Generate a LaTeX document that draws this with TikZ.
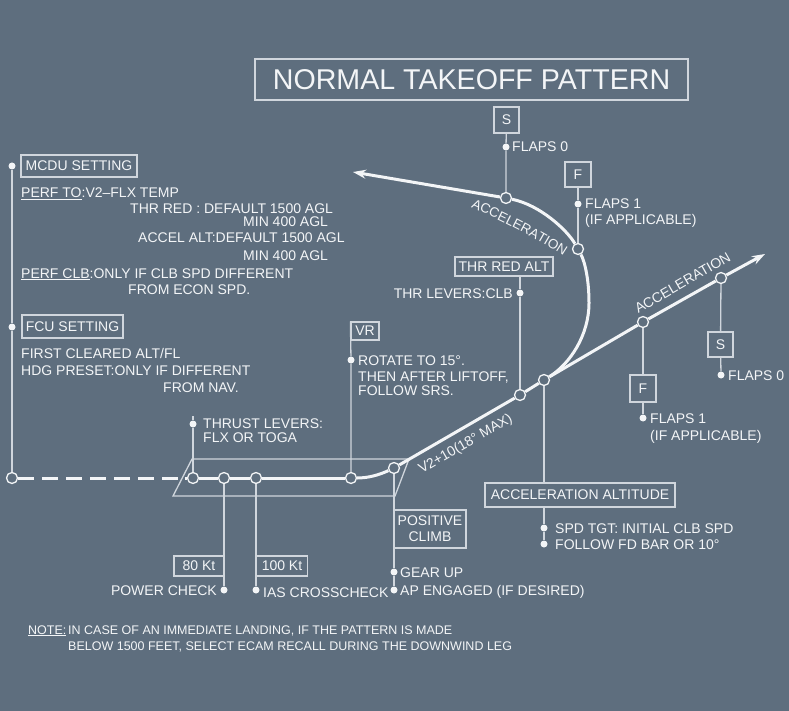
\documentclass[tikz,border=0pt]{standalone}
\usepackage{fontspec}
\setmainfont{Liberation Sans}
\usetikzlibrary{arrows.meta,decorations.text}
\definecolor{bgc}{RGB}{94,110,126}
\definecolor{lnc}{RGB}{208,214,221}
\definecolor{txc}{RGB}{243,245,247}
\newcommand\lblfont{\fontsize{14}{16}\selectfont}
\newcommand\notefont{\fontsize{12.5}{15}\selectfont}
\begin{document}
\begin{tikzpicture}[x=1pt,y=-1pt,
  boxnode/.style={draw=lnc, line width=1.2pt, inner sep=0pt, text=txc, font=\lblfont, align=center},
  lbl/.style={text=txc, font=\lblfont, inner sep=0pt, anchor=base west},
  lblr/.style={lbl, anchor=base east},
  notelbl/.style={lbl, font=\notefont},
  ringnode/.style={circle, draw=txc, line width=1.3pt, fill=bgc, minimum size=11pt, inner sep=0pt},
  dotnode/.style={circle, fill=txc, minimum size=7pt, inner sep=0pt},
  leadline/.style={draw=lnc, line width=1.3pt},
  mainline/.style={draw=txc, line width=3pt},
  tipa/.style={-{Stealth[length=13pt,width=9pt]}}
]
\fill[bgc] (0,0) rectangle (789,711);
\useasboundingbox (0,0) rectangle (789,711);

% title
\node[boxnode, minimum width=433pt, minimum height=41pt, line width=1.4pt, font=\fontsize{28.6}{30}\selectfont] (title) at (471.5,79.5) {NORMAL TAKEOFF PATTERN};

% runway parallelogram
\coordinate (pa) at (192,459);
\coordinate (pb) at (409,459);
\coordinate (pc) at (395,496);
\coordinate (pd) at (173,496);
\draw[leadline] (pa) -- (pb) -- (pc) -- (pd) -- cycle;

% rings on the path
\node[ringnode] (r0) at (12,478) {};
\node[ringnode] (r1) at (193,478) {};
\node[ringnode] (r2) at (224,478) {};
\node[ringnode] (r3) at (256,478) {};
\node[ringnode] (r4) at (351,478) {};
\node[ringnode] (r5) at (394,468) {};
\node[ringnode] (k1) at (520,395) {};
\node[ringnode] (k2) at (544,380) {};
\node[ringnode] (k3) at (643,322) {};
\node[ringnode] (k4) at (721,278) {};
\node[ringnode] (t1) at (578,249) {};
\node[ringnode] (t2) at (506,198) {};
\coordinate (dashend) at (185,478);
\coordinate (climbtip) at (765,254);
\coordinate (turntip) at (353,172);
\coordinate (thrtop) at (193,416);

% boxes
\node[boxnode, minimum width=116pt, minimum height=22pt] (mcdu) at (79,166) {MCDU SETTING};
\node[boxnode, minimum width=101pt, minimum height=23pt] (fcu) at (72.5,326.5) {FCU SETTING};
\node[boxnode, minimum width=25pt, minimum height=26pt] (sbox1) at (506.5,120) {S};
\node[boxnode, minimum width=26pt, minimum height=25pt] (fbox1) at (578,174.5) {F};
\node[boxnode, minimum width=98pt, minimum height=19pt] (trbox) at (504,266.5) {THR RED ALT};
\node[boxnode, minimum width=28pt, minimum height=18pt] (vrbox) at (365,331) {VR};
\node[boxnode, minimum width=26pt, minimum height=27pt] (fbox2) at (643,388.5) {F};
\node[boxnode, minimum width=25pt, minimum height=25pt] (sbox2) at (720.5,344.5) {S};
\node[boxnode, minimum width=190pt, minimum height=24pt] (aabox) at (580,495) {ACCELERATION ALTITUDE};
\node[boxnode, minimum width=50pt, minimum height=20pt] (pcbox) at (199,566) {80 Kt};
\node[boxnode, minimum width=51pt, minimum height=20pt] (iasbox) at (282,566) {100 Kt};
\node[boxnode, minimum width=72pt, minimum height=38pt] (posbox) at (430,529) {POSITIVE\\CLIMB};

% dots
\node[dotnode] (mcdudot) at (12,166) {};
\node[dotnode] (fcudot) at (12,327) {};
\node[dotnode] (thrdot) at (193,424) {};
\node[dotnode] (vrdot) at (351,360) {};
\node[dotnode] (pcdot) at (224,590) {};
\node[dotnode] (iasdot) at (256,590) {};
\node[dotnode] (geardot) at (394,572) {};
\node[dotnode] (apdot) at (394,590) {};
\node[dotnode] (clbdot) at (520,293) {};
\node[dotnode] (spddot) at (544,528) {};
\node[dotnode] (fddot) at (544,544) {};
\node[dotnode] (f0dot) at (506,147) {};
\node[dotnode] (f1dot) at (578,204) {};
\node[dotnode] (f1bdot) at (643,418) {};
\node[dotnode] (f0bdot) at (721,375) {};

% main flight path
\draw[mainline, dash pattern=on 16pt off 8pt] (r0) -- (dashend);
\draw[mainline] (dashend) -- (r1) -- (r2) -- (r3) -- (r4);
\draw[mainline] (r4) .. controls (368,478) and (379,475) .. (r5);
\draw[mainline, tipa] (r5) -- (k1) -- (k2) -- (k3) -- (k4) -- (climbtip);
\draw[mainline, tipa] (k2) .. controls (570,364) and (589,335) .. (589,303)
  .. controls (589,280) and (585,262) .. (t1)
  .. controls (567,230) and (540,205) .. (t2) -- (turntip);

% leader lines
\draw[leadline] (mcdudot) -- (fcudot) -- (r0);
\draw[leadline] (r1) -- (thrdot) -- (thrtop);
\draw[leadline] (r4) -- (vrdot) -- (vrbox.north west);
\draw[leadline] (r2) -- (pcdot);
\draw[leadline] (r3) -- (iasdot);
\draw[leadline] (r5) -- (geardot) -- (apdot);
\draw[leadline] (trbox.south -| k1) -- (clbdot) -- (k1);
\draw[leadline] (k2) -- (k2 |- aabox.north);
\draw[leadline] (aabox.south -| k2) -- (spddot) -- (fddot);
\draw[leadline] (sbox1) -- (f0dot) -- (t2);
\draw[leadline] (fbox1) -- (f1dot) -- (t1);
\draw[leadline] (k3) -- (fbox2) -- (f1bdot);
\draw[leadline] (k4) -- (sbox2) -- (f0bdot);

% path labels
\path[decorate, decoration={text along path, text align=center,
  text={|\fontsize{13.5}{16}\selectfont\color{txc}|ACCELERATION}}]
  (466,205) .. controls (500,220) and (535,237) .. (568,259);
\node[lbl, anchor=base, rotate=30] (acc2) at (685,287) {ACCELERATION};
\node[lbl, anchor=base, rotate=30] (v2lbl) at (467.5,447.4) {V2+10(18° MAX)};

% texts
\node[lbl] (t01) at (21,198) {\underline{PERF TO}:V2–FLX TEMP};
\node[lbl] (t02) at (130,214) {THR RED : DEFAULT 1500 AGL};
\node[lbl] (t03) at (243,227) {MIN 400 AGL};
\node[lbl] (t04) at (138,243) {ACCEL ALT:DEFAULT 1500 AGL};
\node[lbl] (t05) at (243,260) {MIN 400 AGL};
\node[lbl] (t06) at (21,278) {\underline{PERF CLB}:ONLY IF CLB SPD DIFFERENT};
\node[lbl] (t07) at (128,294) {FROM ECON SPD.};
\node[lbl] (t08) at (21,358) {FIRST CLEARED ALT/FL};
\node[lbl] (t09) at (21,375) {HDG PRESET:ONLY IF DIFFERENT};
\node[lbl] (t10) at (163,392) {FROM NAV.};
\node[lbl] (t11) at (203,428) {THRUST LEVERS:};
\node[lbl] (t12) at (203,442) {FLX OR TOGA};
\node[lbl] (t13) at (358,365) {ROTATE TO 15°.};
\node[lbl] (t14) at (358,381) {THEN AFTER LIFTOFF,};
\node[lbl] (t15) at (358,395) {FOLLOW SRS.};
\node[lblr] (t16) at (217,595) {POWER CHECK};
\node[lbl] (t17) at (263,597) {IAS CROSSCHECK};
\node[lbl] (t18) at (400,577) {GEAR UP};
\node[lbl] (t19) at (400,595) {AP ENGAGED (IF DESIRED)};
\node[lbl] (t20) at (555,533) {SPD TGT: INITIAL CLB SPD};
\node[lbl] (t21) at (555,549) {FOLLOW FD BAR OR 10°};
\node[lblr] (t22) at (513,298) {THR LEVERS:CLB};
\node[lbl] (t23) at (512,152) {FLAPS 0};
\node[lbl] (t24) at (585,209) {FLAPS 1};
\node[lbl] (t25) at (585,225) {(IF APPLICABLE)};
\node[lbl] (t26) at (650,423) {FLAPS 1};
\node[lbl] (t27) at (650,440) {(IF APPLICABLE)};
\node[lbl] (t28) at (728,380) {FLAPS 0};
\node[notelbl] (t29) at (28,634) {\underline{NOTE:}};
\node[notelbl] (t30) at (68,634) {IN CASE OF AN IMMEDIATE LANDING, IF THE PATTERN IS MADE};
\node[notelbl] (t31) at (68,650) {BELOW 1500 FEET, SELECT ECAM RECALL DURING THE DOWNWIND LEG};
\end{tikzpicture}
\end{document}
